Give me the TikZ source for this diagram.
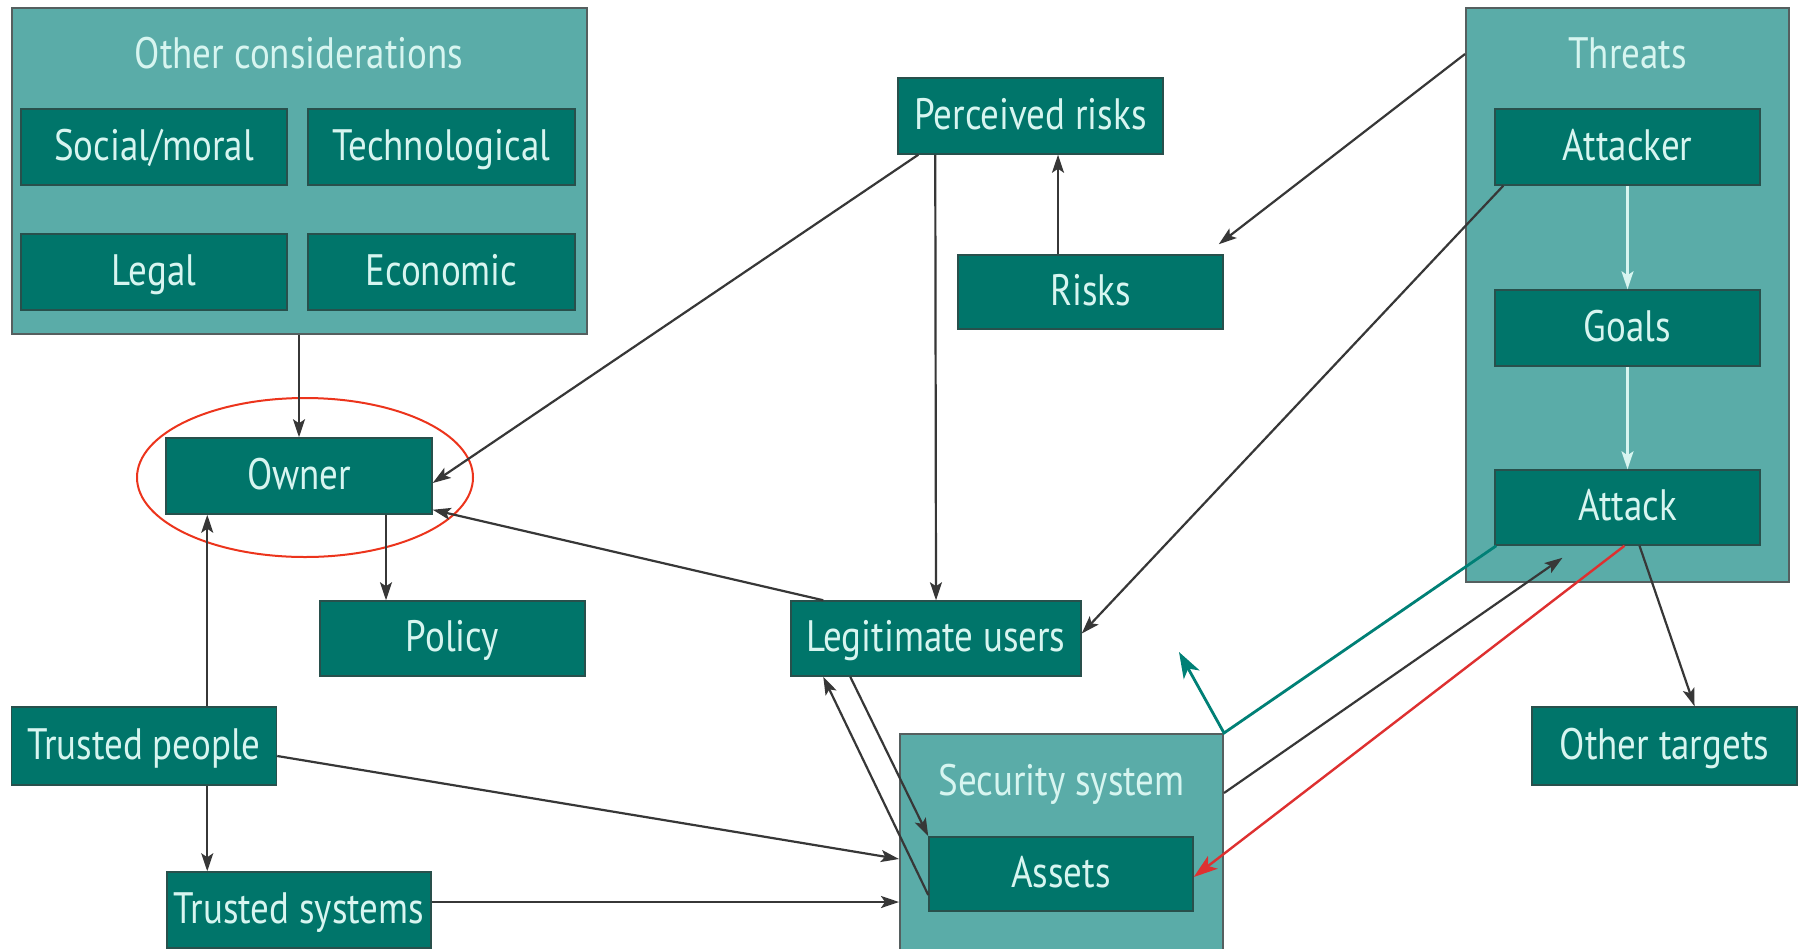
\documentclass[tikz,border=0pt]{standalone}
\usepackage{fontspec}
\setmainfont{PT Sans}[FakeStretch=0.84]
\usetikzlibrary{arrows.meta,calc}
\definecolor{outerfill}{RGB}{90,172,168}
\definecolor{outerline}{RGB}{85,95,95}
\definecolor{innerfill}{RGB}{0,117,106}
\definecolor{innerline}{RGB}{40,80,76}
\definecolor{txt}{RGB}{215,245,240}
\definecolor{arrowgray}{RGB}{55,55,55}
\definecolor{tealarrow}{RGB}{0,128,118}
\definecolor{redarrow}{RGB}{222,48,48}
\definecolor{ellred}{RGB}{236,52,28}
\begin{document}
\begin{tikzpicture}[x=1pt,y=-1pt,
  outerbox/.style={draw=outerline, line width=2pt, fill=outerfill, rectangle, inner sep=0pt},
  innerbox/.style={draw=innerline, line width=1.5pt, fill=innerfill, rectangle, inner sep=0pt,
    text=txt, font=\fontsize{44}{52}\selectfont, text height=30pt, text depth=4pt},
  titletext/.style={text=txt, font=\fontsize{44}{52}\selectfont, inner sep=0pt, text height=30pt, text depth=4pt},
  conn/.style={draw=arrowgray, line width=2.2pt, -{Stealth[length=18pt,width=12pt,inset=4pt]}},
  whiteconn/.style={draw=txt, line width=2.2pt, -{Stealth[length=18pt,width=12pt,inset=4pt]}},
  tealconn/.style={draw=tealarrow, line width=2.8pt, -{Stealth[length=26pt,width=18pt,inset=7pt]}},
  redconn/.style={draw=redarrow, line width=2.4pt, -{Stealth[length=24pt,width=16pt,inset=6pt]}}
]
\fill[white] (0,0) rectangle (1806,948);
\useasboundingbox (0,0) rectangle (1806,948);

% containers
\node[outerbox, minimum width=575, minimum height=326] (other) at (299,171) {};
\node[titletext] (othertitle) at (299,55) {Other considerations};
\node[outerbox, minimum width=323, minimum height=574] (threats) at (1627.5,295) {};
\node[titletext] (threatstitle) at (1627.5,55) {Threats};
\node[outerbox, minimum width=323, minimum height=216] (security) at (1061.5,842) {};
\node[titletext] (securitytitle) at (1061.5,782) {Security system};

% inner boxes
\node[innerbox, minimum width=266, minimum height=76] (social) at (154,147) {Social/moral};
\node[innerbox, minimum width=267, minimum height=76] (techno) at (441.5,147) {Technological};
\node[innerbox, minimum width=266, minimum height=76] (legal) at (154,272) {Legal};
\node[innerbox, minimum width=267, minimum height=76] (econ) at (441.5,272) {Economic};

\node[innerbox, minimum width=266, minimum height=76] (owner) at (299,476) {Owner};
\node[innerbox, minimum width=265, minimum height=75] (policy) at (452.5,638.5) {Policy};
\node[innerbox, minimum width=265, minimum height=78] (tpeople) at (144,746) {Trusted people};
\node[innerbox, minimum width=264, minimum height=76] (tsystems) at (299,910) {Trusted systems};

\node[innerbox, minimum width=265, minimum height=76] (perceived) at (1030.5,116) {Perceived risks};
\node[innerbox, minimum width=265, minimum height=74] (risks) at (1090.5,292) {Risks};
\node[innerbox, minimum width=290, minimum height=75] (legit) at (936,638.5) {Legitimate users};
\node[innerbox, minimum width=264, minimum height=74] (assets) at (1061,874) {Assets};

\node[innerbox, minimum width=265, minimum height=76] (attacker) at (1627.5,147) {Attacker};
\node[innerbox, minimum width=265, minimum height=76] (goals) at (1627.5,328) {Goals};
\node[innerbox, minimum width=265, minimum height=75] (attack) at (1627.5,507.5) {Attack};
\node[innerbox, minimum width=265, minimum height=78] (othertargets) at (1664.5,746) {Other targets};

% red ellipse around owner
\draw[ellred, line width=2pt] (305,477.5) ellipse [x radius=168, y radius=79.5];

% connectors
\draw[conn] (other.south) -- (owner.north);
\draw[conn] ([xshift=21pt]perceived.south west) -- ([yshift=-7pt]owner.east);
\draw[conn] ([xshift=38pt]perceived.south west) -- (legit.north);
\draw[conn] ([xshift=-32.5pt]risks.north) -- ([xshift=-32.5pt]risks.north |- perceived.south);
\draw[conn] ([yshift=-47pt]threats.north west) -- ([xshift=-5pt,yshift=10pt]risks.north east);
\draw[conn] ([xshift=9pt]attacker.south west) -- ([yshift=5pt]legit.east);
\draw[conn] ([xshift=33pt]legit.north west) -- ([yshift=5pt]owner.south east);
\draw[conn] ([xshift=87pt]owner.south) -- ([xshift=87pt]owner.south |- policy.north);
\draw[conn] ([xshift=41pt]tsystems.north west |- tpeople.north) -- ([xshift=41pt]tsystems.north west |- owner.south);
\draw[conn] ([xshift=41pt]tsystems.north west |- tpeople.south) -- ([xshift=41pt]tsystems.north west);
\draw[conn] ([yshift=-10pt]tpeople.east) -- ([yshift=-17pt]security.west);
\draw[conn] ([yshift=8pt]tsystems.east) -- ([yshift=8pt]tsystems.east -| security.west);
\draw[conn] ([xshift=60pt]legit.south west) -- (assets.north west);
\draw[conn] ([yshift=-21pt]assets.west) -- ([xshift=33pt]legit.south west);
\coordinate (tealtip) at (1179,652);
\draw[tealconn] ([xshift=2pt]attack.south west) -- (security.north east) -- (tealtip);
\draw[conn] ([yshift=49pt]security.east) -- ([xshift=-65pt,yshift=-12pt]attack.south);
\draw[redconn] ([xshift=-3pt]attack.south) -- ([yshift=-3pt]assets.east);
\draw[conn] ([xshift=12pt]attack.south) -- ([xshift=30pt]othertargets.north);
\draw[whiteconn] (attacker.south) -- (goals.north);
\draw[whiteconn] (goals.south) -- (attack.north);
\end{tikzpicture}
\end{document}
